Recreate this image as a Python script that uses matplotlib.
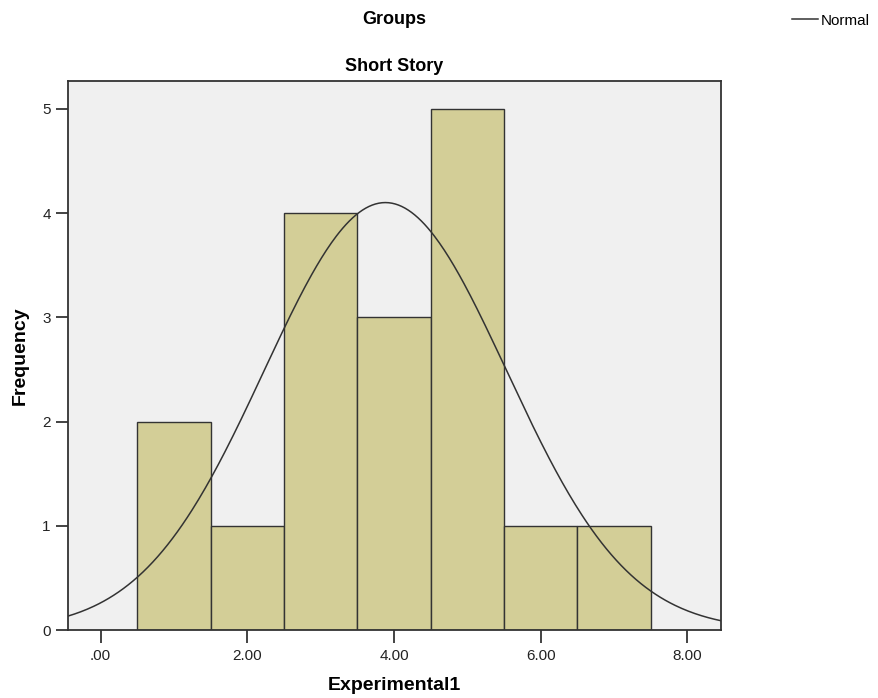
import numpy as np
import matplotlib.pyplot as plt

plt.rcParams['font.family'] = ['Liberation Sans', 'DejaVu Sans']

# histogram of Experimental1, group "Short Story"
bin_centers = [1, 2, 3, 4, 5, 6, 7]
counts = [2, 1, 4, 3, 5, 1, 1]
x_ticks = [0, 2, 4, 6, 8]
x_tick_labels = ['.00', '2.00', '4.00', '6.00', '8.00']
y_ticks = [0, 1, 2, 3, 4, 5]

# normal curve from the sample
vals = np.repeat(bin_centers, counts)
mean = vals.mean()
sd = vals.std(ddof=1)
n = len(vals)

fig = plt.figure(figsize=(8.79, 6.98), dpi=100)
ax = fig.add_axes([0.0774, 0.0974, 0.7429, 0.787])
ax.set_facecolor('#f0f0f0')

ax.bar(bin_centers, counts, width=1.0, color='#d3ce97', edgecolor='#333333',
       linewidth=1.0, zorder=2)

xs = np.linspace(-0.45, 8.46, 400)
ys = n * 1.0 / (sd * np.sqrt(2 * np.pi)) * np.exp(-0.5 * ((xs - mean) / sd) ** 2)
ax.plot(xs, ys, color='#333333', linewidth=1.1, zorder=3, label='Normal')

ax.set_xlim(-0.445, 8.46)
ax.set_ylim(0, 5.27)
ax.set_xticks(x_ticks)
ax.set_xticklabels(x_tick_labels)
ax.set_yticks(y_ticks)
ax.tick_params(axis='both', direction='out', length=9, width=1.2, labelsize=11,
               colors='#222222')
ax.tick_params(axis='x', pad=5)
for s in ax.spines.values():
    s.set_color('#333333')
    s.set_linewidth(1.3)

ax.set_xlabel('Experimental1', fontsize=14, fontweight='bold', labelpad=10)
ax.set_ylabel('Frequency', fontsize=14, fontweight='bold', labelpad=10)
ax.set_title('Short Story', fontsize=13, fontweight='bold', pad=7)
fig.text(0.448, 0.972, 'Groups', ha='center', va='center', fontsize=13,
         fontweight='bold')

fig.legend(loc='upper right', bbox_to_anchor=(1.005, 1.0), frameon=False,
           fontsize=11, handlelength=1.7, handletextpad=0.2)

fig.savefig('out.png', dpi=100)
